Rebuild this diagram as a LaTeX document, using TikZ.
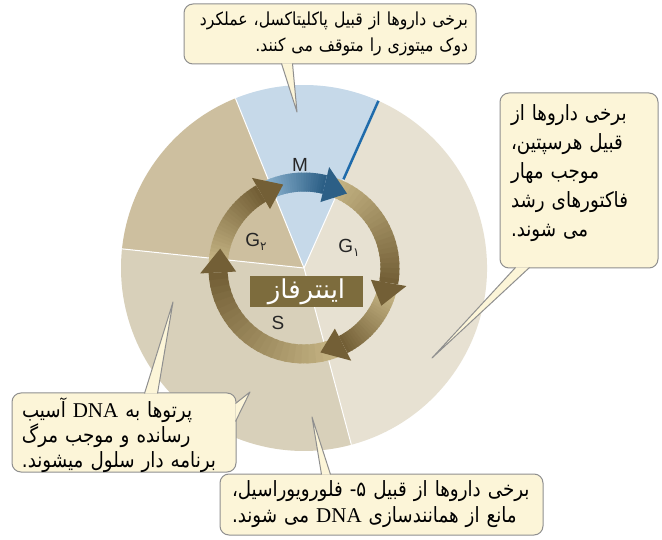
\documentclass[tikz,border=0pt]{standalone}
\usepackage{fontspec}
\setmainfont{Liberation Sans}
\newfontfamily\fa[Script=Arabic,FakeStretch=0.87]{DejaVu Sans}
\newfontfamily\faw[Script=Arabic]{DejaVu Sans}
\newfontfamily\ser{Liberation Serif}
\TeXXeTstate=1
\usetikzlibrary{calc}
\newcommand\rl[1]{\beginR #1\endR}
\newcommand\dna{\beginL{\ser DNA}\endL}
\definecolor{boxfill}{HTML}{FCF5D8}
\definecolor{boxline}{HTML}{8F8F8F}
\definecolor{mcol}{HTML}{C6D9E9}
\definecolor{gtwocol}{HTML}{CDBF9F}
\definecolor{scol}{HTML}{D8D0BA}
\definecolor{gonecol}{HTML}{E7E1D2}
\definecolor{bluel}{HTML}{1F6BAB}
\definecolor{olight}{HTML}{C4B383}
\definecolor{odark}{HTML}{735F36}
\definecolor{blight}{HTML}{86AECB}
\definecolor{bdark}{HTML}{2C5F86}
\definecolor{intcol}{HTML}{7D6C3D}
\newcommand\ringbody[4]{%
  \foreach \i in {0,...,23}{%
    \pgfmathsetmacro\aa{#1+(#2-(#1))*\i/24}%
    \pgfmathsetmacro\bb{#1+(#2-(#1))*min(\i+1.4,24)/24}%
    \pgfmathtruncatemacro\pp{\i*100/23}%
    \draw[line width=19pt,color={#4!\pp!#3}] (\aa:86) arc[start angle=\aa,end angle=\bb,radius=86];
  }}
\newcommand\ringhead[2]{%
  \fill[#2] (#1:86) -- ({#1+16}:104) -- ({#1+16}:68) -- cycle;}
\newcommand\tail[3]{%
  \fill[boxfill] #1 -- #3 -- #2 -- cycle;
  \draw[boxline,line width=1pt,line join=round] #1 -- #3 -- #2;}
\tikzset{
  callout/.style={draw=boxline,fill=boxfill,rounded corners=9pt,line width=1pt,
    inner sep=0pt},
  phase/.style={font=\fontsize{19}{19}\selectfont,text=black!85,inner sep=0pt}
}
\begin{document}
\begin{tikzpicture}[x=1pt,y=1pt]
\useasboundingbox (0,0) rectangle (662,539);
\fill[white] (0,0) rectangle (662,539);
\coordinate (C) at (304,271);
% sectors
\begin{scope}[shift={(C)}]
  \fill[gonecol] (0,0) -- (-75:183) arc[start angle=-75,end angle=66,radius=183] -- cycle;
  \fill[mcol] (0,0) -- (66:183) arc[start angle=66,end angle=112,radius=183] -- cycle;
  \fill[gtwocol] (0,0) -- (112:183) arc[start angle=112,end angle=174,radius=183] -- cycle;
  \fill[scol] (0,0) -- (174:183) arc[start angle=174,end angle=285,radius=183] -- cycle;
  \draw[white,line width=1pt] (0,0) -- (112:183) (0,0) -- (174:183) (0,0) -- (285:183) (0,0) -- (66:183);
  \draw[bluel,line width=2.5pt] (66:97) -- (66:183);
  % ring
  \ringbody{-183}{-240}{olight}{odark}
  \ringbody{-69}{-177}{olight}{odark}
  \ringbody{-16}{-63}{olight}{odark}
  \ringbody{70}{-10}{olight}{odark}
  \ringbody{114}{76}{blight}{bdark}
  \ringhead{104}{odark}
  \ringhead{-193}{odark}
  \ringhead{-79}{odark}
  \ringhead{-26}{odark}
  \ringhead{60}{bdark}
\end{scope}
% phase labels
\node[phase] (m) at (300,374) {M};
\node[phase] (g2) at (256,297) {G\raisebox{-4pt}{\faw\fontsize{12}{12}\selectfont ۲}};
\node[phase] (g1) at (349,291) {G\raisebox{-4pt}{\faw\fontsize{12}{12}\selectfont ۱}};
\node[phase] (s) at (278,216) {S};
\node[fill=intcol,minimum width=113pt,minimum height=31pt,inner sep=0pt,text=white,
  font=\faw\fontsize{26}{26}\selectfont] (inter) at (306.5,247.5) {\rl{اینترفاز}};
% callouts
\node[callout,minimum width=292pt,minimum height=60pt,text width=276pt,align=right,
  font=\fa\fontsize{18}{26}\selectfont] (mbox) at (330,505)
  {\rl{برخی داروها از قبیل پاکلیتاکسل، عملکرد}\\\rl{دوک میتوزی را متوقف می کنند.}};
\coordinate (mtip) at (297,427);
\tail{($(mbox.south west)+(98,1)$)}{($(mbox.south west)+(109,1)$)}{(mtip)}
\node[callout,minimum width=158pt,minimum height=175pt] (gbox) at (579,358.5) {};
\node[text width=136pt,align=left,inner sep=0pt,font=\fa\fontsize{21}{29}\selectfont]
  (gtxt) at ($(gbox.center)+(0,7)$)
  {\rl{برخی داروها از}\\\rl{قبیل هرسپتین،}\\\rl{موجب مهار}\\\rl{فاکتورهای رشد}\\\rl{می شوند.}};
\coordinate (gtip) at (432,181);
\tail{($(gbox.south west)+(16,1)$)}{($(gbox.south west)+(30,1)$)}{(gtip)}
\node[callout,minimum width=224pt,minimum height=79pt] (rbox) at (124,106.5) {};
\node[text width=204pt,align=left,inner sep=0pt,font=\fa\fontsize{21}{25}\selectfont]
  (rtxt) at ($(rbox.center)+(0,-3)$)
  {\rl{پرتوها به \dna{} آسیب}\\\rl{رسانده و موجب مرگ}\\\rl{برنامه دار سلول میشوند.}};
\coordinate (rtipa) at (173,237);
\coordinate (rtipb) at (250,147);
\tail{($(rbox.north west)+(133,-1)$)}{($(rbox.north west)+(146,-1)$)}{(rtipa)}
\tail{($(rbox.north east)+(-1,-11)$)}{($(rbox.north east)+(-1,-29)$)}{(rtipb)}
\node[callout,minimum width=323pt,minimum height=61pt,text width=299pt,align=left,
  font=\fa\fontsize{21}{26}\selectfont] (sbox) at (381.5,34.5)
  {\rl{برخی داروها از قبیل ۵- فلورویوراسیل،}\\\rl{مانع از همانندسازی \dna{} می شوند.}};
\coordinate (stip) at (312,122);
\tail{($(sbox.north west)+(102,-1)$)}{($(sbox.north west)+(111,-1)$)}{(stip)}
\end{tikzpicture}
\end{document}
